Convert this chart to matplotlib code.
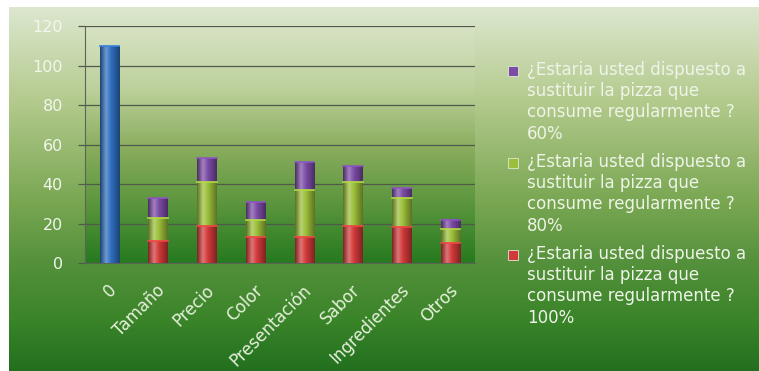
import numpy as np
import matplotlib
matplotlib.use("Agg")
import matplotlib.pyplot as plt
from matplotlib.colors import LinearSegmentedColormap, to_rgb
from matplotlib.patches import Rectangle
import matplotlib.transforms as mtransforms

categories = ["0", "Tamaño", "Precio", "Color", "Presentación", "Sabor", "Ingredientes", "Otros"]
blue_vals = [110, 0, 0, 0, 0, 0, 0, 0]
red_100 = [0, 11, 19, 13, 13, 19, 18, 10]
green_80 = [0, 12, 22, 9, 24, 22, 15, 7]
purple_60 = [0, 10, 12, 9, 14, 8, 5, 5]
legend_label = "¿Estaria usted dispuesto a\nsustituir la pizza que\nconsume regularmente ?\n{}"
legend_items = [("60%", "#7b4ba6"), ("80%", "#9bbf3a"), ("100%", "#d23a3a")]
yticks = [0, 20, 40, 60, 80, 100, 120]

W, H = 759, 371
plt.rcParams["font.family"] = ["DejaVu Sans"]
fig = plt.figure(figsize=(W / 100, H / 100), dpi=100, facecolor="white")

# chart background with vertical green gradient
bg = fig.add_axes([9 / W, 0, 1 - 9 / W, 1 - 7 / H])
bg.set_axis_off()
bg_cmap = LinearSegmentedColormap.from_list(
    "bg",
    [(0.0, "#dce7cf"), (0.26, "#b3ca8c"), (0.54, "#78a651"),
     (0.7, "#55913c"), (0.86, "#3a8429"), (1.0, "#22701f")])
grad = np.linspace(0, 1, 256).reshape(-1, 1)
bg.imshow(grad, aspect="auto", cmap=bg_cmap, extent=[0, 1, 0, 1], origin="upper")
bg.set_xlim(0, 1)
bg.set_ylim(0, 1)

ax = fig.add_axes([85 / W, 1 - 263 / H, 390 / W, (263 - 26.3) / H])
x = np.arange(len(categories))
width = 0.4

# plot area has its own, darker gradient
pa_cmap = LinearSegmentedColormap.from_list(
    "pa",
    [(0.0, "#d7e3c5"), (0.27, "#bcd09a"), (0.52, "#88ac5c"),
     (0.73, "#5f9840"), (1.0, "#267a1f")])
ax.imshow(grad, aspect="auto", cmap=pa_cmap, extent=[-0.5, len(categories) - 0.5, 0, 120],
          origin="upper", zorder=0)

bars = []
bars.append((ax.bar(x, blue_vals, width, color="#2f6fc0"), "#2f6fc0"))
bottom = np.zeros(len(categories))
for vals, col in [(red_100, "#d23a3a"), (green_80, "#9bbf3a"), (purple_60, "#7b4ba6")]:
    bars.append((ax.bar(x, vals, width, bottom=bottom, color=col), col))
    bottom += np.array(vals)


def shade(col):
    c = np.array(to_rgb(col))
    dark = c * 0.6
    light = np.clip(c + (1 - c) * 0.3, 0, 1)
    return LinearSegmentedColormap.from_list(
        "s", [(0, dark), (0.3, light), (0.55, c), (1, dark)])


for cont, col in bars:
    cm = shade(col)
    for p in cont.patches:
        h = p.get_height()
        if h <= 0:
            continue
        p.set_visible(False)
        x0, y0, w = p.get_x(), p.get_y(), p.get_width()
        ax.imshow(np.linspace(0, 1, 64).reshape(1, -1), cmap=cm, aspect="auto",
                  extent=[x0, x0 + w, y0, y0 + h], zorder=3, interpolation="bilinear")
        ax.plot([x0, x0 + w], [y0 + h, y0 + h],
                color=np.clip(np.array(to_rgb(col)) * 1.15, 0, 1), lw=1.2, zorder=4)

ax.set_xlim(-0.5, len(categories) - 0.5)
ax.set_ylim(0, 120)
ax.set_yticks(yticks)
ax.yaxis.grid(True, color="#4f5a4c", lw=0.9, zorder=1)
for s in ["top", "right"]:
    ax.spines[s].set_visible(False)
ax.spines["left"].set_color("#5a6457")
ax.spines["bottom"].set_color("#5a6457")
ax.tick_params(axis="y", length=5, width=0.9, color="#4f5a4c", pad=11,
               labelsize=11.5, labelcolor="#f2f6ee")
ax.tick_params(axis="x", length=0, pad=13, labelsize=12, labelcolor="#e6f0dc")
ax.set_xticks(x)
ax.set_xticklabels(categories, rotation=45, ha="right", va="top", rotation_mode="anchor")
offset = mtransforms.ScaledTranslation(-2 / 100, 0, fig.dpi_scale_trans)
for lab in ax.get_xticklabels():
    lab.set_transform(lab.get_transform() + offset)
for gl in ax.get_ygridlines():
    gl.set_zorder(1)

# legend drawn by hand
ly = 71
for pct, col in legend_items:
    fig.patches.append(Rectangle((508 / W, 1 - (ly + 5) / H), 10 / W, 10 / H,
                                 transform=fig.transFigure, facecolor=col,
                                 edgecolor="#dfe8d6", lw=0.6))
    fig.text(527 / W, 1 - (ly - 10) / H, legend_label.format(pct), ha="left", va="top",
             fontsize=12, color="#eef4e8", linespacing=1.23)
    ly += 92

fig.savefig("out.png", dpi=100, facecolor="white")
